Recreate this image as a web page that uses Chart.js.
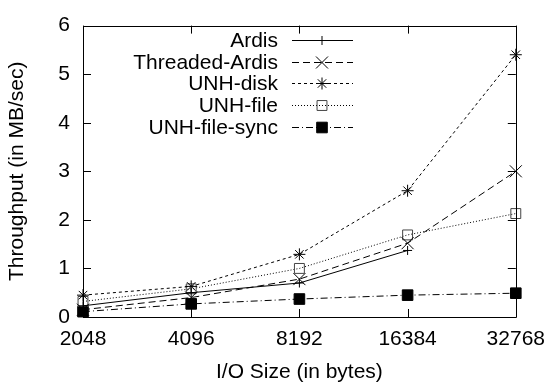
<!DOCTYPE html>
<html><head><meta charset="utf-8">
<script src="https://cdn.jsdelivr.net/npm/chart.js@4/dist/chart.umd.min.js"></script>
<style>html,body{margin:0;padding:0;background:#fff}#wrap{width:555px;height:385px}</style>
</head><body><div id="wrap"><canvas id="c" width="555" height="385"></canvas></div>
<script>
const categories = ['2048', '4096', '8192', '16384', '32768'];
const ardis = [0.23, 0.50, 0.70, 1.37, null];
const threadedArdis = [0.15, 0.40, 0.78, 1.52, 3.00];
const unhDisk = [0.45, 0.63, 1.29, 2.60, 5.40];
const unhFile = [0.32, 0.58, 1.00, 1.69, 2.13];
const unhFileSync = [0.11, 0.27, 0.37, 0.45, 0.49];
const yTicks = [0, 1, 2, 3, 4, 5, 6];
const seriesNames = ['Ardis', 'Threaded-Ardis', 'UNH-disk', 'UNH-file', 'UNH-file-sync'];

const FONT = '"Liberation Sans", Arial, Helvetica, sans-serif';

function ds(label, data, dash, pointStyle, radius, fill, border) {
  return {
    label, data, borderColor: '#000', borderWidth: 1, borderDash: dash,
    pointStyle, pointRadius: radius, pointHoverRadius: radius,
    pointBorderColor: border || '#000', pointBackgroundColor: fill,
    pointBorderWidth: 1, fill: false, tension: 0, clip: false, spanGaps: false
  };
}

const datasets = [
  ds(seriesNames[0], ardis, [], 'cross', 4.5, '#000'),
  ds(seriesNames[1], threadedArdis, [7, 4], 'crossRot', 8.5, '#000'),
  ds(seriesNames[2], unhDisk, [3, 3], 'star', 6, '#000'),
  ds(seriesNames[3], unhFile, [1, 2], 'rect', 7, 'rgba(0,0,0,0)', '#444'),
  ds(seriesNames[4], unhFileSync, [7, 3, 1, 3], 'rect', 7.5, '#000')
];

const framePlugin = {
  id: 'frame',
  afterDatasetsDraw(chart) {
    const ctx = chart.ctx, a = chart.chartArea;
    const xs = chart.scales.x, ys = chart.scales.y;
    ctx.save();
    ctx.strokeStyle = '#000'; ctx.lineWidth = 1; ctx.setLineDash([]);
    ctx.beginPath();
    ctx.rect(Math.round(a.left) + 0.5, Math.round(a.top) + 0.5, Math.round(a.right - a.left), Math.round(a.bottom - a.top));
    ctx.stroke();
    const tl = 8;
    ctx.beginPath();
    categories.forEach((c, i) => {
      const x = Math.round(xs.getPixelForValue(i)) + 0.5;
      ctx.moveTo(x, a.bottom); ctx.lineTo(x, a.bottom - tl);
      ctx.moveTo(x, a.top); ctx.lineTo(x, a.top + tl);
    });
    yTicks.forEach(v => {
      const y = Math.round(ys.getPixelForValue(v)) + 0.5;
      ctx.moveTo(a.left, y); ctx.lineTo(a.left + tl, y);
      ctx.moveTo(a.right, y); ctx.lineTo(a.right - tl, y);
    });
    ctx.stroke();
    ctx.restore();
  },
  afterDraw(chart) {
    const ctx = chart.ctx;
    const textRight = 278, lineL = 292, lineR = 353, markX = 322;
    const rows = [40, 62, 83, 105, 127];
    ctx.save();
    ctx.font = '21px ' + FONT;
    ctx.textAlign = 'right'; ctx.textBaseline = 'middle'; ctx.fillStyle = '#000';
    chart.data.datasets.forEach((d, i) => {
      const y = rows[i];
      ctx.fillText(d.label, textRight, y + 1);
      ctx.strokeStyle = '#000'; ctx.lineWidth = 1; ctx.setLineDash(d.borderDash);
      ctx.beginPath(); ctx.moveTo(lineL, y + 0.5); ctx.lineTo(lineR, y + 0.5); ctx.stroke();
      ctx.setLineDash([]);
      ctx.fillStyle = d.pointBackgroundColor; ctx.strokeStyle = d.pointBorderColor;
      Chart.helpers.drawPoint(ctx, { pointStyle: d.pointStyle, radius: d.pointRadius, borderWidth: 1, rotation: 0 }, markX, y + 0.5);
      ctx.fillStyle = '#000';
    });
    ctx.restore();
  }
};

new Chart(document.getElementById('c'), {
  type: 'line',
  data: { labels: categories, datasets },
  options: {
    responsive: false, animation: false, devicePixelRatio: 1,
    layout: { padding: { left: 5, right: 34, top: 19, bottom: 0 } },
    plugins: { legend: { display: false }, tooltip: { enabled: false } },
    scales: {
      x: {
        type: 'category', offset: false,
        grid: { display: true, drawOnChartArea: false, drawTicks: false },
        border: { display: false },
        ticks: { color: '#000', font: { family: FONT, size: 21 }, padding: 10, maxRotation: 0, autoSkip: false },
        title: { display: true, text: 'I/O Size (in bytes)', color: '#000', font: { family: FONT, size: 21 }, padding: { top: 0, bottom: 0 } },
        afterFit(s) { s.height = 68; }
      },
      y: {
        min: 0, max: 6,
        grid: { display: true, drawOnChartArea: false, drawTicks: false },
        border: { display: false },
        afterBuildTicks(s) { s.ticks = yTicks.map(v => ({ value: v })); },
        ticks: { color: '#000', font: { family: FONT, size: 21 }, padding: 13 },
        title: { display: true, text: 'Throughput (in MB/sec)', color: '#000', font: { family: FONT, size: 21 }, padding: { top: 0, bottom: 0 } },
        afterFit(s) { s.width = 78; }
      }
    }
  },
  plugins: [framePlugin]
});
</script></body></html>
